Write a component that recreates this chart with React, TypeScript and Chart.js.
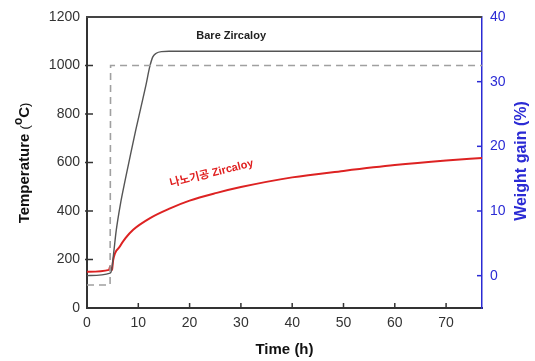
import React, { useEffect, useRef } from "react";
import { Chart, registerables } from "chart.js";

Chart.register(...registerables);

// Furnace temperature program (left axis, °C)
const tempTime = [0, 4.5, 4.6, 77];
const tempValues = [95, 95, 1000, 1000];

// Bare Zircaloy weight gain (right axis, %)
const bareTime = [0, 4.5, 4.8, 5.2, 5.7, 6.5, 7.5, 8.5, 9.5, 10.5, 11.5, 12.2, 12.8, 13.5, 14.5, 16, 77];
const bareGain = [0.0, 0.4, 0.9, 3.5, 7.0, 11.0, 15.0, 18.8, 22.5, 26.0, 29.5, 32.2, 33.8, 34.4, 34.65, 34.7, 34.7];

// 나노기공 Zircaloy weight gain (right axis, %)
const nanoTime = [0, 4.3, 4.5, 4.7, 4.9, 5.1, 6.4, 7.5, 9.0, 12.3, 16.2, 20, 25.3, 30, 40, 50, 60, 70, 77];
const nanoGain = [0.6, 0.9, 1.4, 0.8, 1.0, 2.4, 4.5, 5.8, 7.1, 8.9, 10.4, 11.6, 12.8, 13.7, 15.2, 16.2, 17.1, 17.8, 18.2];

const xTicks = [0, 10, 20, 30, 40, 50, 60, 70];
const tempTicks = [0, 200, 400, 600, 800, 1000, 1200];
const gainTicks = [0, 10, 20, 30, 40];

const BLUE = "#2b2bd4";
const FONT = "'Liberation Sans', Arial, sans-serif";

const zip = (xs: number[], ys: number[]) => xs.map((x, i) => ({ x, y: ys[i] }));

const overlay = {
  id: "overlay",
  afterDraw(chart: any) {
    const ctx = chart.ctx as CanvasRenderingContext2D;
    const { left, right, top, bottom } = chart.chartArea;
    const xs = chart.scales.x;
    const ys = chart.scales.y;
    const y1 = chart.scales.y1;
    const line = (a: number, b: number, c: number, d: number) => {
      ctx.beginPath();
      ctx.moveTo(a, b);
      ctx.lineTo(c, d);
      ctx.stroke();
    };
    ctx.save();
    // top frame
    ctx.strokeStyle = "#444";
    ctx.lineWidth = 2;
    line(left - 1, top, right, top);
    // inward ticks
    ctx.lineWidth = 1.5;
    ctx.strokeStyle = "#333";
    xTicks.forEach((v) => {
      if (v === 0) return;
      const px = xs.getPixelForValue(v);
      line(px, bottom, px, bottom - 5);
    });
    tempTicks.forEach((v) => {
      if (v === 0 || v === 1200) return;
      const py = ys.getPixelForValue(v);
      line(left - 2, py, left + 6, py);
    });
    ctx.strokeStyle = BLUE;
    gainTicks.forEach((v) => {
      if (v === 40) return;
      const py = y1.getPixelForValue(v);
      line(right - 5, py, right, py);
    });

    // annotations
    ctx.fillStyle = "#222";
    ctx.font = `bold 11px ${FONT}`;
    ctx.textAlign = "center";
    ctx.textBaseline = "middle";
    ctx.fillText("Bare Zircaloy", xs.getPixelForValue(28.1), y1.getPixelForValue(37.0));

    ctx.save();
    ctx.translate(xs.getPixelForValue(24.3), y1.getPixelForValue(15.8));
    ctx.rotate((-14 * Math.PI) / 180);
    ctx.fillStyle = "#e02020";
    ctx.font = `bold 11px ${FONT}, 'Noto Sans CJK KR'`;
    ctx.fillText("나노기공 Zircaloy", 0, 0);
    ctx.restore();

    // x title
    ctx.fillStyle = "#111";
    ctx.font = `bold 15px ${FONT}`;
    ctx.textAlign = "center";
    ctx.textBaseline = "middle";
    ctx.fillText("Time (h)", (left + right) / 2, 350);

    // left title with superscript
    ctx.save();
    ctx.translate(25, 163);
    ctx.rotate(-Math.PI / 2);
    const parts = [
      { t: "Temperature ", f: `bold 15px ${FONT}`, dy: 0 },
      { t: "(", f: `13px ${FONT}`, dy: 0 },
      { t: "o", f: `bold 12px ${FONT}`, dy: -6 },
      { t: "C", f: `bold 15px ${FONT}`, dy: 0 },
      { t: ")", f: `13px ${FONT}`, dy: 0 },
    ];
    let total = 0;
    parts.forEach((p) => {
      ctx.font = p.f;
      total += ctx.measureText(p.t).width;
    });
    let cx = -total / 2;
    ctx.textAlign = "left";
    parts.forEach((p) => {
      ctx.font = p.f;
      ctx.fillText(p.t, cx, p.dy);
      cx += ctx.measureText(p.t).width;
    });
    ctx.restore();

    // right title
    ctx.save();
    ctx.translate(522, 161);
    ctx.rotate(-Math.PI / 2);
    ctx.fillStyle = BLUE;
    ctx.font = `bold 16px ${FONT}`;
    ctx.textAlign = "center";
    ctx.fillText("Weight gain (%)", 0, 0);
    ctx.restore();

    ctx.restore();
  },
};

const plain = (v: any) => String(v);

export default function App() {
  const ref = useRef<HTMLCanvasElement | null>(null);
  useEffect(() => {
    if (!ref.current) return;
    const chart = new Chart(ref.current, {
      type: "line",
      data: {
        datasets: [
          {
            data: zip(tempTime, tempValues),
            yAxisID: "y",
            borderColor: "#a0a0a0",
            borderWidth: 1.6,
            borderDash: [7, 5],
            pointRadius: 0,
            tension: 0,
          },
          {
            data: zip(bareTime, bareGain),
            yAxisID: "y1",
            borderColor: "#555",
            borderWidth: 1.4,
            pointRadius: 0,
            cubicInterpolationMode: "monotone",
          },
          {
            data: zip(nanoTime, nanoGain),
            yAxisID: "y1",
            borderColor: "#dd2222",
            borderWidth: 2,
            pointRadius: 0,
            cubicInterpolationMode: "monotone",
          },
        ],
      },
      options: {
        responsive: false,
        maintainAspectRatio: false,
        animation: false,
        devicePixelRatio: 1,
        layout: { padding: { top: 17, left: 0, right: 0, bottom: 0 } },
        plugins: { legend: { display: false }, tooltip: { enabled: false } },
        scales: {
          x: {
            type: "linear",
            min: 0,
            max: 77,
            grid: { display: false, drawTicks: false, tickLength: 0 },
            border: { display: true, color: "#333", width: 2 },
            ticks: { stepSize: 10, color: "#333", font: { size: 14, family: FONT }, padding: 7, maxRotation: 0, callback: plain },
            afterBuildTicks: (s: any) => {
              s.ticks = xTicks.map((v) => ({ value: v }));
            },
            afterFit: (s: any) => {
              s.height = 53;
            },
          },
          y: {
            type: "linear",
            position: "left",
            min: 0,
            max: 1200,
            grid: { display: false, drawTicks: false, tickLength: 0 },
            border: { display: true, color: "#333", width: 2 },
            ticks: { stepSize: 200, color: "#333", font: { size: 14, family: FONT }, padding: 7, callback: plain },
            afterBuildTicks: (s: any) => {
              s.ticks = tempTicks.map((v) => ({ value: v }));
            },
            afterFit: (s: any) => {
              s.width = 87;
            },
          },
          y1: {
            type: "linear",
            position: "right",
            min: -5,
            max: 40,
            grid: { display: false, drawTicks: false, tickLength: 0 },
            border: { display: true, color: BLUE, width: 1.5 },
            ticks: { stepSize: 10, color: BLUE, font: { size: 14, family: FONT }, padding: 8, callback: plain },
            afterBuildTicks: (s: any) => {
              s.ticks = gainTicks.map((v) => ({ value: v }));
            },
            afterFit: (s: any) => {
              s.width = 53;
            },
          },
        },
      },
      plugins: [overlay],
    } as any);
    return () => chart.destroy();
  }, []);
  return (
    <div style={{ position: "absolute", left: 0, top: 0, width: 535, height: 361, background: "#fff" }}>
      <canvas ref={ref} width={535} height={361} style={{ width: 535, height: 361 }} />
    </div>
  );
}
